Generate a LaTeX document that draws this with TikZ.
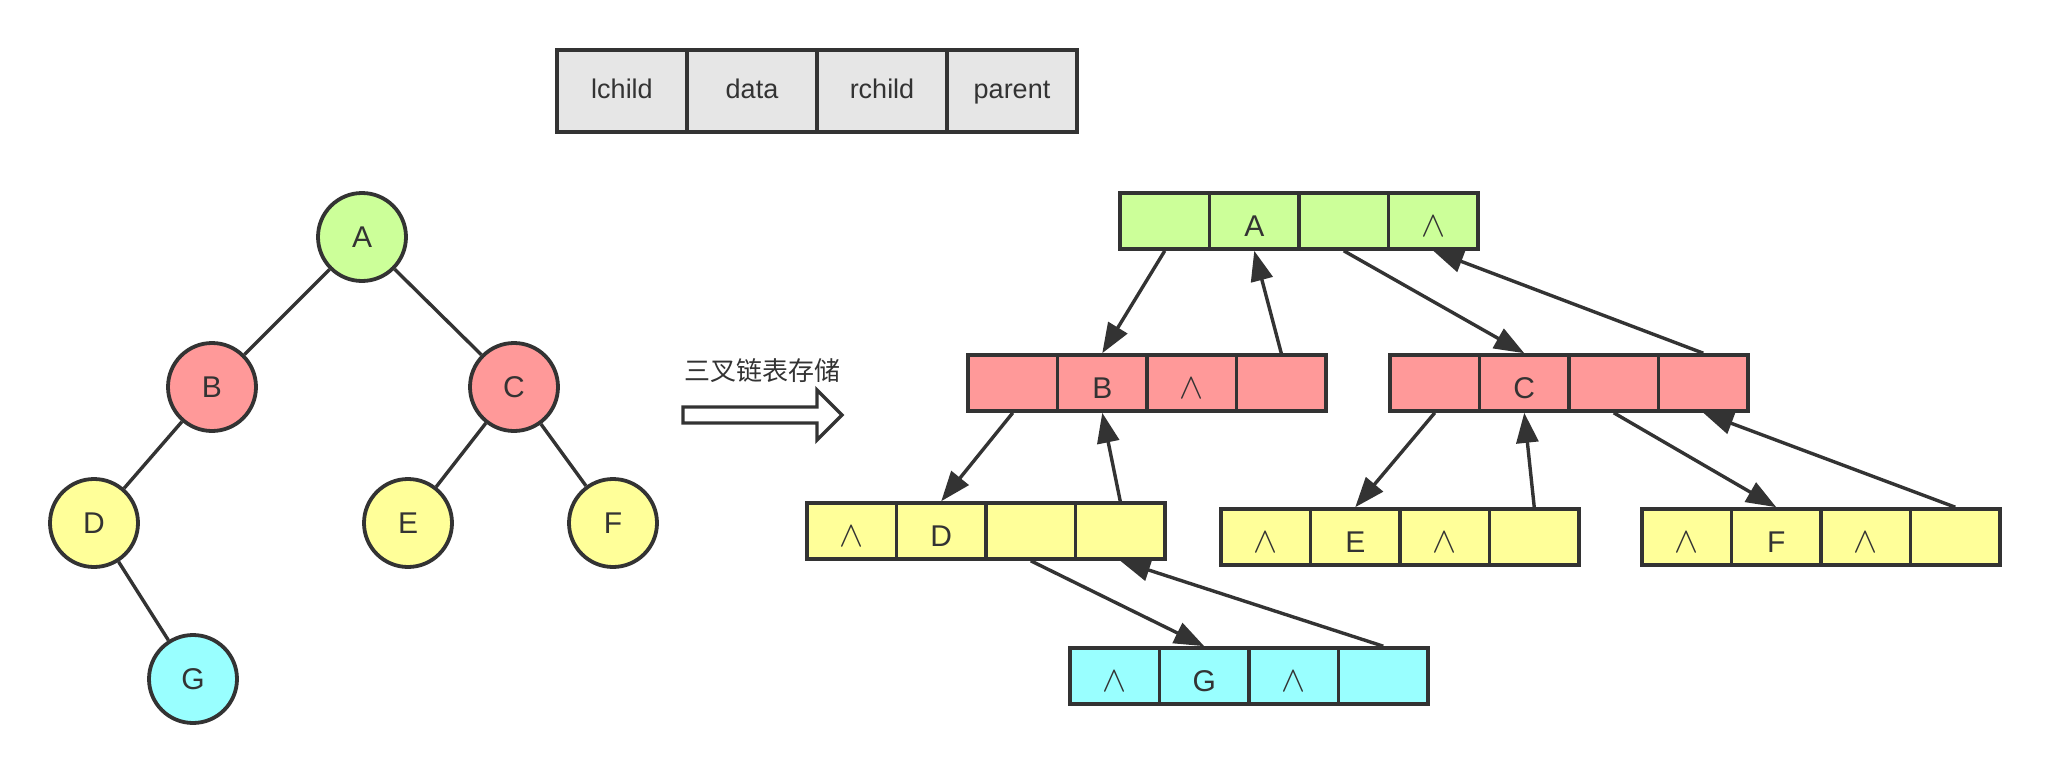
\documentclass[tikz,border=0pt]{standalone}
\usepackage{fontspec}
\setmainfont{Liberation Sans}
\newfontfamily\cjk{Noto Sans CJK SC}
\usetikzlibrary{arrows.meta}
\definecolor{ink}{HTML}{333333}
\definecolor{cgreen}{HTML}{CCFF99}
\definecolor{cred}{HTML}{FF9999}
\definecolor{cyellow}{HTML}{FFFF99}
\definecolor{ccyan}{HTML}{99FFFF}
\definecolor{cgray}{HTML}{E6E6E6}
\newcommand\nil{\scalebox{1.45}{$\wedge$}}
\newcommand\rec[8]{%
  \node[cell,fill=#4] (#11) at ({#2+44.75},{#3+28}) {#5};
  \node[cell,fill=#4] (#12) at ({#2+134.25},{#3+28}) {#6};
  \node[cell,fill=#4] (#13) at ({#2+223.75},{#3+28}) {#7};
  \node[cell,fill=#4] (#14) at ({#2+313.25},{#3+28}) {#8};
}
\tikzset{
  cell/.style={draw=ink, line width=3.6pt, minimum width=89.5pt, minimum height=56pt,
    inner sep=0pt, text=ink, font=\fontsize{30}{34}\selectfont, text height=30pt, text depth=0pt},
  head/.style={draw=ink, line width=3.6pt, fill=cgray, minimum width=130pt, minimum height=82pt,
    inner sep=0pt, text=ink, font=\fontsize{27}{31}\selectfont, text height=21pt, text depth=6pt},
  tnode/.style={circle, draw=ink, line width=3.8pt, minimum size=88pt, inner sep=0pt,
    text=ink, font=\fontsize{30}{34}\selectfont},
  tedge/.style={draw=ink, line width=3.4pt},
  arr/.style={draw=ink, line width=3.4pt, -{Triangle[length=30pt,width=22pt]}},
}
\begin{document}
\begin{tikzpicture}[x=1pt,y=-1pt]
\path[use as bounding box, fill=white] (0,0) rectangle (2050,768);

% header table
\node[head] (h1) at (622,91) {lchild};
\node[head] (h2) at (752,91) {data};
\node[head] (h3) at (882,91) {rchild};
\node[head] (h4) at (1012,91) {parent};

% tree
\node[tnode, fill=cgreen] (tA) at (362,237) {A};
\node[tnode, fill=cred] (tB) at (212,387) {B};
\node[tnode, fill=cred] (tC) at (514,387) {C};
\node[tnode, fill=cyellow] (tD) at (94,523) {D};
\node[tnode, fill=cyellow] (tE) at (408,523) {E};
\node[tnode, fill=cyellow] (tF) at (613,523) {F};
\node[tnode, fill=ccyan] (tG) at (193,679) {G};
\draw[tedge] (tA) -- (tB);
\draw[tedge] (tA) -- (tC);
\draw[tedge] (tB) -- (tD);
\draw[tedge] (tC) -- (tE);
\draw[tedge] (tC) -- (tF);
\draw[tedge] (tD) -- (tG);

% label and hollow arrow
\node[text=ink, font=\cjk\fontsize{26}{30}\selectfont] (lbl) at (762,371) {三叉链表存储};
\draw[ink, line width=3.4pt, line join=miter] (683,407) -- (817,407) -- (817,390) -- (842,415)
  -- (817,440) -- (817,423) -- (683,423) -- cycle;

% records
\rec{A}{1120}{193}{cgreen}{}{A}{}{\nil}
\rec{B}{968}{355}{cred}{}{B}{\nil}{}
\rec{C}{1390}{355}{cred}{}{C}{}{}
\rec{D}{807}{503}{cyellow}{\nil}{D}{}{}
\rec{E}{1221}{509}{cyellow}{\nil}{E}{\nil}{}
\rec{F}{1642}{509}{cyellow}{\nil}{F}{\nil}{}
\rec{G}{1070}{648}{ccyan}{\nil}{G}{\nil}{}

% pointers
\draw[arr] (A1.south) -- (B2.north);
\draw[arr] (B4.north) -- (A2.south);
\draw[arr] (A3.south) -- (C2.north);
\draw[arr] (C4.north) -- (A4.south);
\draw[arr] (B1.south) -- (D2.north);
\draw[arr] (D4.north) -- (B2.south);
\draw[arr] (C1.south) -- (E2.north);
\draw[arr] (E4.north) -- (C2.south);
\draw[arr] (C3.south) -- (F2.north);
\draw[arr] (F4.north) -- (C4.south);
\draw[arr] (D3.south) -- (G2.north);
\draw[arr] (G4.north) -- (D4.south);
\end{tikzpicture}
\end{document}
